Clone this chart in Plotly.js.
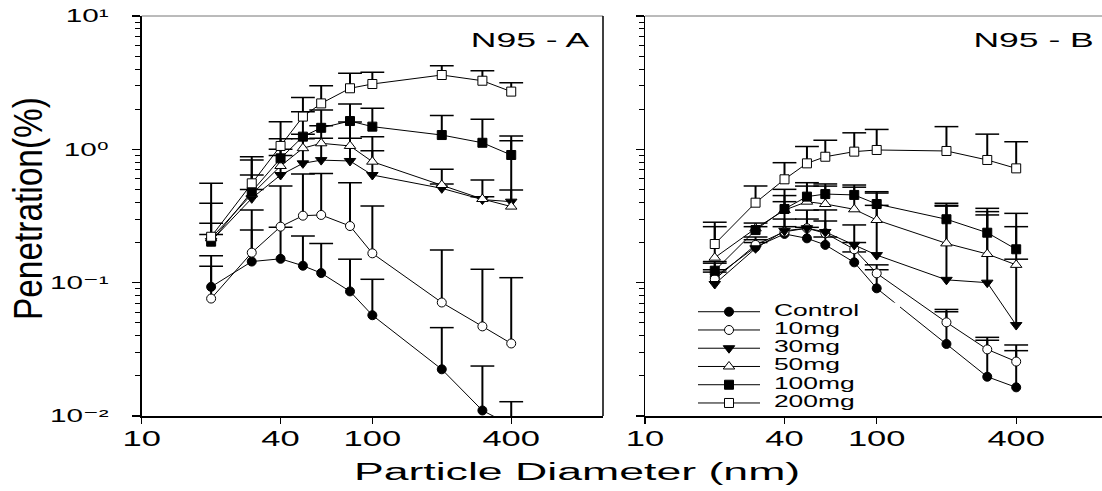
<!DOCTYPE html>
<html><head><meta charset="utf-8">
<script src="https://cdn.plot.ly/plotly-3.0.1.min.js"></script>
<style>html,body{margin:0;padding:0;background:#fff}#chart{width:1102px;height:491px}</style>
</head><body><div id="chart"></div>
<script>
// ---------- data ----------
const diameters = [20, 30, 40, 50, 60, 80, 100, 200, 300, 400];
const seriesNames = ['Control', '10mg', '30mg', '50mg', '100mg', '200mg'];
const xTickVals = [10, 40, 100, 400];
const xTickText = ['10', '40', '100', '400'];
const yTickVals = [0.01, 0.1, 1, 10];
const yTickText = ['10\u207B\u00B2', '10\u207B\u00B9', '10\u2070', '10\u00B9'];
const yMinorVals = [0.02,0.03,0.04,0.05,0.06,0.07,0.08,0.09,0.2,0.3,0.4,0.5,0.6,0.7,0.8,0.9,2,3,4,5,6,7,8,9];
const panelLabels = ['N95 - A', 'N95 - B'];
const xTitle = 'Particle Diameter (nm)';
const yTitle = 'Penetration(%)';

// Panel A (mean, upper end of error bar)
const aCtrl   = [0.093, 0.144, 0.151, 0.134, 0.118, 0.086, 0.057, 0.0224, 0.011, 0.0085];
const aCtrlUp = [0.133, 0.248, 0.26, 0.224, 0.197, 0.15, 0.106, 0.046, 0.0237, 0.0128];
const a10     = [0.076, 0.168, 0.263, 0.318, 0.322, 0.266, 0.166, 0.071, 0.047, 0.035];
const a10Up   = [0.159, 0.351, 0.53, 0.653, 0.66, 0.562, 0.376, 0.176, 0.126, 0.109];
const a30     = [0.205, 0.429, 0.642, 0.785, 0.83, 0.818, 0.642, 0.51, 0.42, 0.405];
const a30Up   = [0.23, 0.5, 0.9, 1.2, 1.21, 1.21, 0.977, 0.55, 0.44, 1.16];
const a50     = [0.215, 0.46, 0.75, 1.02, 1.11, 1.06, 0.808, 0.54, 0.424, 0.372];
const a50Up   = [0.279, 0.642, 1.0, 1.3, 1.5, 1.6, 1.245, 0.708, 0.589, 0.495];
const a100    = [0.203, 0.481, 0.856, 1.245, 1.45, 1.63, 1.48, 1.28, 1.12, 0.907];
const a100Up  = [0.394, 0.83, 1.2, 1.91, 1.97, 2.19, 2.03, 1.79, 1.68, 1.26];
const a200    = [0.221, 0.556, 1.06, 1.76, 2.21, 2.87, 3.09, 3.61, 3.27, 2.71];
const a200Up  = [0.556, 0.88, 1.61, 2.45, 3.0, 3.72, 3.79, 4.24, 3.89, 3.16];

// Panel B
const bCtrl   = [0.11, 0.185, 0.232, 0.215, 0.192, 0.142, 0.0907, 0.0347, 0.0197, 0.0164];
const bCtrlUp = [0.125, 0.2, 0.263, 0.26, 0.22, 0.17, 0.125, 0.0605, 0.037, 0.0309];
const b10     = [0.106, 0.192, 0.241, 0.256, 0.235, 0.178, 0.1175, 0.0504, 0.0316, 0.0256];
const b10Up   = [0.14, 0.21, 0.3, 0.3, 0.29, 0.2, 0.136, 0.063, 0.0389, 0.0341];
const b30     = [0.0977, 0.181, 0.245, 0.256, 0.24, 0.192, 0.161, 0.105, 0.1, 0.0481];
const b30Up   = [0.12, 0.22, 0.405, 0.35, 0.351, 0.271, 0.47, 0.38, 0.322, 0.331];
const b50     = [0.154, 0.255, 0.35, 0.405, 0.389, 0.355, 0.295, 0.197, 0.164, 0.136];
const b50Up   = [0.263, 0.263, 0.45, 0.53, 0.53, 0.52, 0.38, 0.375, 0.341, 0.15];
const b100    = [0.123, 0.248, 0.357, 0.442, 0.462, 0.455, 0.389, 0.299, 0.237, 0.178];
const b100Up  = [0.144, 0.28, 0.501, 0.562, 0.55, 0.54, 0.481, 0.394, 0.361, 0.263];
const b200    = [0.195, 0.398, 0.596, 0.785, 0.88, 0.961, 0.989, 0.972, 0.832, 0.72];
const b200Up  = [0.284, 0.531, 0.794, 1.05, 1.17, 1.33, 1.41, 1.48, 1.30, 1.14];

// ---------- styling ----------
const W = 1102, H = 491;
const px = v => v / W, py = v => 1 - v / H;
const FONT = 'Arial, "Liberation Sans", "DejaVu Sans", sans-serif';
const symbols = ['circle', 'circle', 'triangle-down', 'triangle-up', 'square', 'square'];
const fills = ['black', 'white', 'black', 'white', 'black', 'white'];
const msizes = [9, 9, 10, 10, 9, 9];

const panelA = [[aCtrl, aCtrlUp], [a10, a10Up], [a30, a30Up], [a50, a50Up], [a100, a100Up], [a200, a200Up]];
const panelB = [[bCtrl, bCtrlUp], [b10, b10Up], [b30, b30Up], [b50, b50Up], [b100, b100Up], [b200, b200Up]];

const errTraces = [], capTraces = [], lineTraces = [];
function addPanel(panel, xa, ya) {
  panel.forEach(([vals, ups], i) => {
    errTraces.push({
      type: 'scatter', x: diameters, y: vals, xaxis: xa, yaxis: ya, mode: 'markers',
      marker: {size: 1, opacity: 0},
      error_y: {type: 'data', symmetric: false, array: ups.map((u, k) => u - vals[k]),
        arrayminus: vals.map(() => 0), width: 0, thickness: 2, color: 'black'},
      hoverinfo: 'skip', showlegend: false
    });
    capTraces.push({
      type: 'scatter', x: diameters, y: ups, xaxis: xa, yaxis: ya, mode: 'markers',
      marker: {symbol: 'line-ew', size: 17, color: 'black', line: {width: 1.5, color: 'black'}},
      hoverinfo: 'skip', showlegend: false
    });
    lineTraces.push({
      type: 'scatter', x: diameters, y: vals, xaxis: xa, yaxis: ya, mode: 'lines+markers',
      name: seriesNames[i], line: {color: 'black', width: 1},
      marker: {symbol: symbols[i], size: msizes[i], color: fills[i], line: {color: 'black', width: 1}},
      hoverinfo: 'skip', showlegend: false
    });
  });
}
addPanel(panelA, 'x', 'y');
addPanel(panelB, 'x2', 'y2');

// custom legend drawn on a hidden helper axis
const legendTraces = [];
const legRows = seriesNames.map((_, i) => i);
legRows.forEach(i => {
  legendTraces.push({type: 'scatter', x: [0, 0.307], y: [i, i], xaxis: 'x3', yaxis: 'y3', mode: 'lines',
    line: {color: 'black', width: 1}, hoverinfo: 'skip', showlegend: false});
  legendTraces.push({type: 'scatter', x: [0.1535], y: [i], xaxis: 'x3', yaxis: 'y3', mode: 'markers',
    marker: {symbol: symbols[i], size: msizes[i], color: fills[i], line: {color: 'black', width: 1}},
    hoverinfo: 'skip', showlegend: false});
  legendTraces.push({type: 'scatter', x: [0.376], y: [i], xaxis: 'x3', yaxis: 'y3', mode: 'text',
    text: [seriesNames[i]], textposition: 'middle right', cliponaxis: false,
    textfont: {family: FONT, size: 16, color: 'black'}, hoverinfo: 'skip', showlegend: false});
});

const yDomain = [py(416), py(16)];
const commonX = {
  type: 'log', tickmode: 'array', tickvals: xTickVals, ticktext: xTickText,
  ticks: 'outside', ticklen: 6, tickwidth: 1.2, tickcolor: 'black',
  showline: true, linecolor: 'black', linewidth: 1.5, showgrid: false, zeroline: false,
  tickfont: {family: FONT, size: 22, color: 'black'}, fixedrange: true
};
const commonY = {
  type: 'log', range: [-2, 1], domain: yDomain, tickmode: 'array', tickvals: yTickVals, ticktext: yTickText,
  ticks: 'outside', ticklen: 8, tickwidth: 1.2, tickcolor: 'black',
  minor: {tickmode: 'array', tickvals: yMinorVals, ticks: 'outside', ticklen: 5, tickwidth: 1, tickcolor: 'black', showgrid: false},
  showline: true, linecolor: 'black', linewidth: 1.5, showgrid: false, zeroline: false,
  tickfont: {family: FONT, size: 18, color: 'black'}, ticklabelstandoff: 20, fixedrange: true
};

const layout = {
  width: W, height: H, margin: {l: 0, r: 0, t: 0, b: 0},
  paper_bgcolor: 'white', plot_bgcolor: 'white', showlegend: false,
  font: {family: FONT, color: 'black'},
  xaxis: Object.assign({}, commonX, {domain: [px(141.7), px(603)], range: [1, 3], anchor: 'y'}),
  yaxis: Object.assign({}, commonY, {anchor: 'x'}),
  xaxis2: Object.assign({}, commonX, {domain: [px(645), 1], range: [1, 2.9724], anchor: 'y2'}),
  yaxis2: Object.assign({}, commonY, {anchor: 'x2', showticklabels: false}),
  xaxis3: {domain: [px(698), px(900)], range: [0, 1], visible: false, anchor: 'y3', fixedrange: true},
  yaxis3: {domain: [py(412.1), py(302.6)], range: [5.5, -0.5], visible: false, anchor: 'x3', fixedrange: true},
  shapes: [
    {type: 'line', xref: 'x domain', yref: 'y domain', x0: 0, x1: 1, y0: 1, y1: 1, line: {color: '#777', width: 1}},
    {type: 'line', xref: 'x domain', yref: 'y domain', x0: 1, x1: 1, y0: 0, y1: 1, line: {color: 'black', width: 1.5}},
    {type: 'line', xref: 'x2 domain', yref: 'y2 domain', x0: 0, x1: 1, y0: 1, y1: 1, line: {color: '#777', width: 1}}
  ],
  annotations: [
    {text: panelLabels[0], xref: 'paper', yref: 'paper', x: px(530), y: py(39.5), xanchor: 'center', yanchor: 'middle',
      showarrow: false, font: {family: FONT, size: 21, color: 'black'}},
    {text: panelLabels[1], xref: 'paper', yref: 'paper', x: px(1033), y: py(39.5), xanchor: 'center', yanchor: 'middle',
      showarrow: false, font: {family: FONT, size: 21, color: 'black'}},
    {text: xTitle, xref: 'paper', yref: 'paper', x: px(577), y: py(472), xanchor: 'center', yanchor: 'middle',
      showarrow: false, font: {family: FONT, size: 23, color: 'black'}},
    {text: yTitle, xref: 'paper', yref: 'paper', x: px(27.5), y: py(208.5), xanchor: 'center', yanchor: 'middle',
      textangle: -90, showarrow: false, font: {family: FONT, size: 40, color: 'black'}}
  ]
};

// horizontal text widths as seen in the reference (factor, or absolute length)
const annStretch = [{f: 1.69}, {f: 1.69}, {f: 1.94}, {len: 223}];

Plotly.newPlot('chart', errTraces.concat(capTraces, lineTraces, legendTraces), layout, {staticPlot: true, displayModeBar: false})
.then(gd => {
  const fit = (t, f, len) => {
    const L = t.getComputedTextLength();
    if (!(L > 0)) return;
    t.setAttribute('textLength', (len ? len : L * f).toFixed(1));
    t.setAttribute('lengthAdjust', 'spacingAndGlyphs');
  };
  const widen = (t, f, dy) => {
    const ax = parseFloat(t.getAttribute('x')) || 0;
    const tr = t.getAttribute('transform') || '';
    t.setAttribute('transform', tr + ' translate(' + ax + ',' + dy + ') scale(' + f + ',1) translate(' + (-ax) + ',0)');
  };
  gd.querySelectorAll('.textpoint text').forEach(t => fit(t, 1.65));
  gd.querySelectorAll('g.annotation').forEach(g => {
    const idx = +g.getAttribute('data-index');
    const s = annStretch[idx];
    const t = g.querySelector('text.annotation-text');
    if (s && t) fit(t, s.f, s.len);
  });
  gd.querySelectorAll('.xtick text, .x2tick text').forEach(t => widen(t, 1.57, -4));
  gd.querySelectorAll('.ytick text').forEach(t => widen(t, 1.65, 0));
});
</script>
</body></html>
